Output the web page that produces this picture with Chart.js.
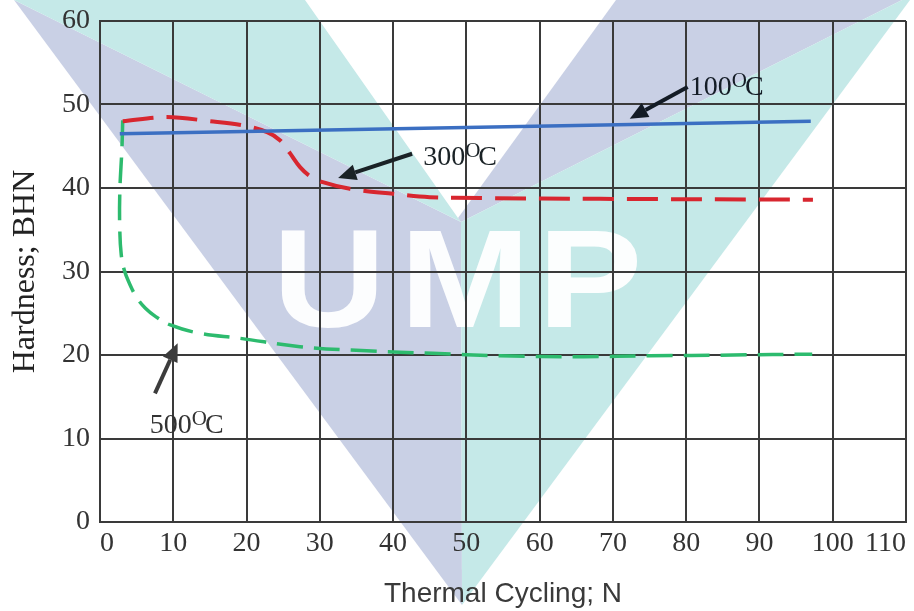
<!DOCTYPE html>
<html>
<head>
<meta charset="utf-8">
<script src="https://cdn.jsdelivr.net/npm/chart.js@4.4.0/dist/chart.umd.min.js"></script>
<style>
html, body { margin: 0; padding: 0; background: #fff; }
#wrap { width: 914px; height: 611px; }
</style>
</head>
<body>
<div id="wrap"><canvas id="output" width="914" height="611"></canvas></div>
<script>
// hardness vs thermal cycles
const cycles100 = [2.7, 97.0];
const hard100 = [46.5, 48.0];

const cycles300 = [3.1, 9.1, 15, 19.5, 22.8, 24.6, 25.9, 27.3, 28.7, 30.4, 34.1, 40, 45, 51.9, 68.2, 97.3];
const hard300 = [48.0, 48.5, 48.0, 47.5, 46.7, 45.7, 44.2, 42.5, 41.4, 40.7, 39.9, 39.3, 38.9, 38.8, 38.7, 38.6];

const cycles500 = [3.1, 3.0, 2.7, 2.7, 2.9, 3.3, 3.9, 5.0, 6.2, 7.6, 9.6, 13.6, 19.1, 27.3, 36.4, 45.4, 54.6, 66, 75, 86.4, 97.2];
const hard500 = [48.1, 44.9, 39.4, 35.0, 32.0, 30.2, 28.8, 26.9, 25.6, 24.6, 23.6, 22.6, 22.0, 21.0, 20.5, 20.2, 19.9, 19.8, 19.9, 20.0, 20.1];

const tempLabels = ['100', '300', '500'];

const serif = "'Liberation Serif', 'Times New Roman', serif";
const sans = "'Liberation Sans', Arial, sans-serif";

function toPoints(xs, ys) {
    return xs.map((x, i) => ({ x: x, y: ys[i] }));
}

// faded UMP logo behind the plot
const watermark = {
    id: 'watermark',
    beforeDraw(chart) {
        const ctx = chart.ctx;
        const purple = 'rgb(201,208,229)';
        const teal = 'rgb(197,233,232)';
        const poly = (pts, color) => {
            ctx.beginPath();
            ctx.moveTo(pts[0][0], pts[0][1]);
            pts.slice(1).forEach(p => ctx.lineTo(p[0], p[1]));
            ctx.closePath();
            ctx.fillStyle = color;
            ctx.fill();
        };
        ctx.save();
        ctx.fillStyle = '#fff';
        ctx.fillRect(0, 0, chart.width, chart.height);
        poly([[14, 0], [462, 605], [461, 222]], purple);
        poly([[14, 0], [305, 0], [458, 218], [461, 222]], teal);
        poly([[616, 0], [902, 0], [461, 222], [458, 218]], purple);
        poly([[902, 0], [910, 0], [462, 605], [461, 222]], teal);

        ctx.fillStyle = 'rgba(255,255,255,0.95)';
        ctx.font = 'bold 140px ' + sans;
        ctx.textAlign = 'center';
        ctx.textBaseline = 'alphabetic';
        [['U', 329], ['M', 465], ['P', 590]].forEach(([ch, x]) => {
            ctx.save();
            ctx.translate(x, 327);
            ctx.scale(1.12, 1);
            ctx.fillText(ch, 0, 0);
            ctx.restore();
        });
        ctx.restore();
    }
};

// temperature callouts with arrows (data coords)
const callouts = [
    { i: 0, x: 80.5, y: 51.1, from: [80.2, 52.1], to: [72.3, 48.3], color: '#141c26' },
    { i: 1, x: 44.1, y: 42.7, from: [42.6, 44.1], to: [32.5, 41.2], color: '#1a2226' },
    { i: 2, x: 6.8, y: 10.6, from: [7.5, 15.4], to: [10.6, 21.4], color: '#3c3c3c' }
];

const annotate = {
    id: 'annotate',
    afterDatasetsDraw(chart) {
        const ctx = chart.ctx;
        const xs = chart.scales.x, ys = chart.scales.y;
        ctx.save();
        callouts.forEach(c => {
            const x1 = xs.getPixelForValue(c.from[0]), y1 = ys.getPixelForValue(c.from[1]);
            const x2 = xs.getPixelForValue(c.to[0]), y2 = ys.getPixelForValue(c.to[1]);
            const ang = Math.atan2(y2 - y1, x2 - x1);
            const head = 18, half = 8;
            const bx = x2 - head * Math.cos(ang), by = y2 - head * Math.sin(ang);
            ctx.strokeStyle = c.color;
            ctx.fillStyle = c.color;
            ctx.lineWidth = 4;
            ctx.beginPath();
            ctx.moveTo(x1, y1);
            ctx.lineTo(bx, by);
            ctx.stroke();
            ctx.beginPath();
            ctx.moveTo(x2, y2);
            ctx.lineTo(bx + half * Math.sin(ang), by - half * Math.cos(ang));
            ctx.lineTo(bx - half * Math.sin(ang), by + half * Math.cos(ang));
            ctx.closePath();
            ctx.fill();

            // "100" + superscript O + "C"
            let px = xs.getPixelForValue(c.x);
            const py = ys.getPixelForValue(c.y);
            ctx.textAlign = 'left';
            ctx.textBaseline = 'alphabetic';
            ctx.fillStyle = c.i === 2 ? '#333' : c.color;
            ctx.font = '28px ' + serif;
            ctx.fillText(tempLabels[c.i], px, py);
            px += ctx.measureText(tempLabels[c.i]).width;
            ctx.font = '21px ' + serif;
            ctx.fillText('O', px, py - 8);
            px += ctx.measureText('O').width - 2;
            ctx.font = '28px ' + serif;
            ctx.fillText('C', px, py);
        });
        ctx.restore();
    }
};

const ctx = document.getElementById('output').getContext('2d');

const chart = new Chart(ctx, {
    type: 'line',
    data: {
        datasets: [
            {
                label: '100°C',
                data: toPoints(cycles100, hard100),
                borderColor: '#3b6fc2',
                borderWidth: 3.5,
                pointRadius: 0,
                tension: 0
            },
            {
                label: '300°C',
                data: toPoints(cycles300, hard300),
                borderColor: '#d8262f',
                borderWidth: 4,
                borderDash: [31, 13],
                pointRadius: 0,
                tension: 0.35
            },
            {
                label: '500°C',
                data: toPoints(cycles500, hard500),
                borderColor: '#2dbb6e',
                borderWidth: 3.5,
                borderDash: [26, 11],
                pointRadius: 0,
                tension: 0.4
            }
        ]
    },
    options: {
        responsive: false,
        animation: false,
        devicePixelRatio: 1,
        layout: { padding: { top: 21, right: 8, left: 0, bottom: 0 } },
        plugins: {
            legend: { display: false },
            tooltip: { enabled: false }
        },
        scales: {
            x: {
                type: 'linear',
                min: 0,
                max: 110,
                ticks: {
                    stepSize: 10,
                    align: 'inner',
                    padding: 5,
                    color: '#333',
                    font: { family: serif, size: 28 }
                },
                grid: { color: '#3a3a3a', lineWidth: 2, drawTicks: false },
                border: { color: '#3a3a3a', width: 2 },
                title: {
                    display: true,
                    text: 'Thermal Cycling; N',
                    color: '#3a3a3a',
                    font: { family: sans, size: 28 },
                    padding: { top: 0, bottom: 0 }
                },
                afterFit(scale) {
                    scale.height = 89;
                    scale.paddingLeft = 0;
                    scale.paddingRight = 0;
                }
            },
            y: {
                min: 0,
                max: 60,
                ticks: {
                    stepSize: 10,
                    padding: 10,
                    color: '#333',
                    font: { family: serif, size: 28 }
                },
                grid: { color: '#3a3a3a', lineWidth: 2, drawTicks: false },
                border: { color: '#3a3a3a', width: 2 },
                title: {
                    display: true,
                    text: 'Hardness; BHN',
                    color: '#222',
                    font: { family: serif, size: 32 },
                    padding: { top: 6, bottom: 0 }
                },
                afterFit(scale) {
                    scale.width = 100;
                    scale.paddingTop = 0;
                    scale.paddingBottom = 0;
                }
            }
        }
    },
    plugins: [watermark, annotate]
});
</script>
</body>
</html>
